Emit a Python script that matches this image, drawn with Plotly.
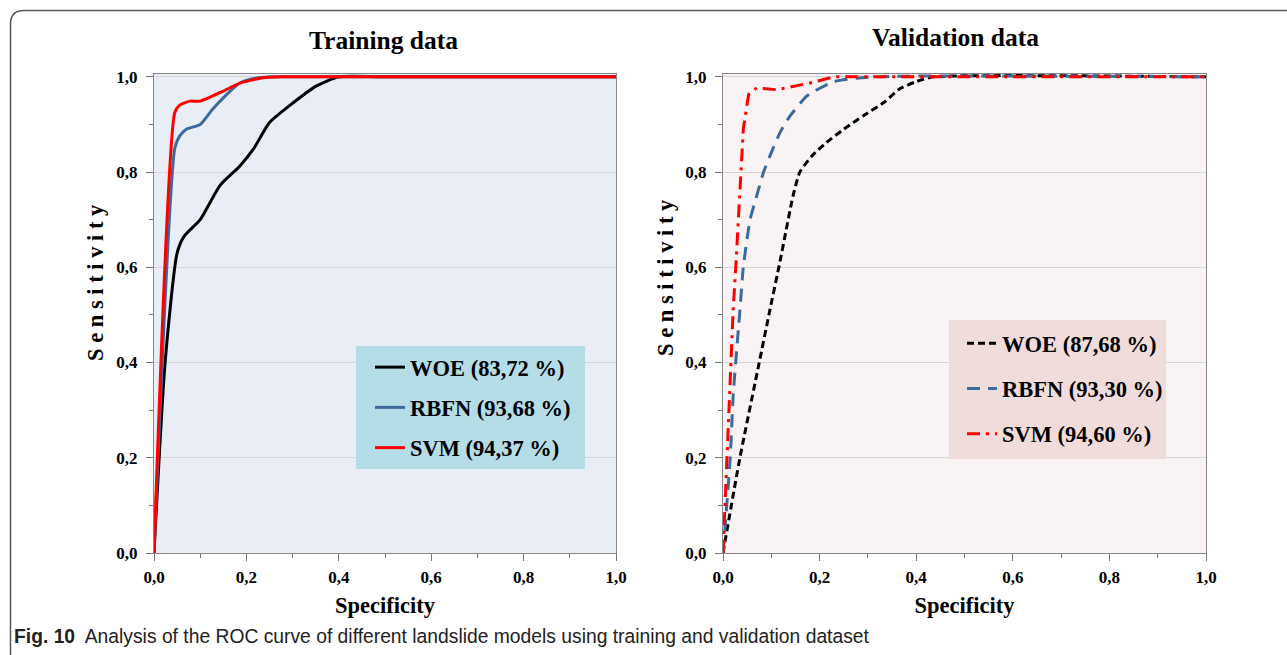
import plotly.graph_objects as go

W, H = 1287, 655

# ---------------- data ----------------
# Training data
tr_woe_x = [0, 0.024, 0.05, 0.065, 0.10, 0.143, 0.186, 0.215, 0.25, 0.294, 0.35, 0.40, 0.5, 1.0]
tr_woe_y = [0, 0.40, 0.63, 0.665, 0.70, 0.772, 0.813, 0.848, 0.904, 0.94, 0.98, 1.0, 1.0, 1.0]
tr_rbfn_x = [0, 0.045, 0.055, 0.07, 0.10, 0.125, 0.15, 0.186, 0.22, 0.26, 0.5, 1.0]
tr_rbfn_y = [0, 0.85, 0.875, 0.89, 0.90, 0.93, 0.956, 0.987, 0.997, 1.0, 1.0, 1.0]
tr_svm_x = [0, 0.045, 0.055, 0.078, 0.10, 0.15, 0.186, 0.236, 0.28, 0.5, 1.0]
tr_svm_y = [0, 0.925, 0.94, 0.949, 0.949, 0.97, 0.987, 0.998, 1.0, 1.0, 1.0]

# Validation data
va_woe_x = [0, 0.035, 0.075, 0.097, 0.118, 0.145, 0.159, 0.185, 0.214, 0.25, 0.29, 0.333, 0.366, 0.40, 0.435, 1.0]
va_woe_y = [0, 0.20, 0.40, 0.51, 0.612, 0.75, 0.80, 0.835, 0.862, 0.89, 0.918, 0.946, 0.975, 0.99, 1.0, 1.0]
va_rbfn_x = [0, 0.004, 0.015, 0.021, 0.035, 0.042, 0.056, 0.07, 0.084, 0.10, 0.118, 0.139, 0.174, 0.23, 0.31, 1.0]
va_rbfn_y = [0, 0.05, 0.20, 0.33, 0.51, 0.60, 0.70, 0.751, 0.80, 0.841, 0.883, 0.918, 0.96, 0.99, 1.0, 1.0]
va_svm_x = [0, 0.008, 0.0145, 0.021, 0.027, 0.035, 0.042, 0.053, 0.07, 0.111, 0.18, 0.229, 1.0]
va_svm_y = [0, 0.20, 0.33, 0.51, 0.61, 0.75, 0.89, 0.963, 0.977, 0.973, 0.987, 1.0, 1.0]

tr_names = ["WOE (83,72 %)", "RBFN (93,68 %)", "SVM (94,37 %)"]
va_names = ["WOE (87,68 %)", "RBFN (93,30 %)", "SVM (94,60 %)"]
titles = ["Training data", "Validation data"]
caption_bold = "Fig. 10"
caption_text = "Analysis of the ROC curve of different landslide models using training and validation dataset"
x_title = "Specificity"
y_title = "S e n s i t i v i t y"

C_WOE, C_RBFN, C_SVM = "#000000", "#3d6a9c", "#ff0000"
SERIF = "Liberation Serif, Times New Roman, serif"


def px(x):
    return x / W


def py(y):
    return 1 - y / H


fig = go.Figure()

# training traces
for xs, ys, nm, col in [(tr_woe_x, tr_woe_y, tr_names[0], C_WOE),
                        (tr_rbfn_x, tr_rbfn_y, tr_names[1], C_RBFN),
                        (tr_svm_x, tr_svm_y, tr_names[2], C_SVM)]:
    fig.add_trace(go.Scatter(x=xs, y=ys, name=nm, mode="lines", legendgroup="tr" + nm,
                             line=dict(color=col, width=3, shape="spline", smoothing=0.6),
                             xaxis="x", yaxis="y", legend="legend", hoverinfo="skip"))

# validation traces
for xs, ys, nm, col, dash, shape in [
        (va_woe_x, va_woe_y, va_names[0], C_WOE, "7px,4px", "spline"),
        (va_rbfn_x, va_rbfn_y, va_names[1], C_RBFN, "13px,8px", "spline"),
        (va_svm_x, va_svm_y, va_names[2], C_SVM, "13px,6px,3px,6px", "linear")]:
    fig.add_trace(go.Scatter(x=xs, y=ys, name=nm, mode="lines", legendgroup="va" + nm,
                             line=dict(color=col, width=3, dash=dash, shape=shape, smoothing=0.5),
                             xaxis="x2", yaxis="y2", legend="legend2", hoverinfo="skip"))

tickfont = dict(family=SERIF, size=17, color="#000", weight="bold")
titlefont = dict(family=SERIF, size=22.5, color="#000", weight="bold")


def xaxis(dom, anchor):
    return dict(domain=dom, anchor=anchor, range=[0, 1.0], tick0=0, dtick=0.2, tickformat=".1f",
                ticks="outside", ticklen=7, tickcolor="#777", showline=True, linecolor="#888",
                linewidth=1, mirror=True, showgrid=False, zeroline=False, tickfont=tickfont,
                automargin=False, ticklabelstandoff=2,
                minor=dict(ticks="outside", ticklen=4, dtick=0.1, tickcolor="#777", showgrid=False),
                title=dict(text=x_title, font=titlefont, standoff=10))


def yaxis(dom, anchor):
    return dict(domain=dom, anchor=anchor, range=[0, 1.006], tick0=0, dtick=0.2, tickformat=".1f",
                ticks="outside", ticklen=7, tickcolor="#777", showline=True, linecolor="#888",
                linewidth=1, mirror=True, showgrid=True, gridcolor="#d4d4d4", gridwidth=1,
                zeroline=False, tickfont=tickfont, automargin=False, ticklabelstandoff=5,
                minor=dict(ticks="outside", ticklen=4, dtick=0.1, tickcolor="#777", showgrid=False))


legfont = dict(family=SERIF, size=22.5, color="#000", weight="bold")
ydom = [py(553), py(74)]
fig.update_layout(
    template="none",
    width=W, height=H, margin=dict(l=0, r=0, t=0, b=0, pad=0), autosize=False,
    paper_bgcolor="white", plot_bgcolor="rgba(0,0,0,0)",
    separators=", ",
    xaxis=xaxis([px(154), px(616)], "y"),
    yaxis=yaxis(ydom, "x"),
    xaxis2=xaxis([px(723), px(1206)], "y2"),
    yaxis2=yaxis(ydom, "x2"),
    legend=dict(x=px(370), y=py(346), xanchor="left", yanchor="top", bgcolor="rgba(0,0,0,0)",
                font=legfont, tracegroupgap=8, borderwidth=0),
    legend2=dict(x=px(962), y=py(322), xanchor="left", yanchor="top", bgcolor="rgba(0,0,0,0)",
                 font=legfont, tracegroupgap=13, borderwidth=0),
    showlegend=True,
)

shapes = [
    # plot backgrounds
    dict(type="rect", xref="x domain", yref="y domain", x0=0, x1=1, y0=0, y1=1,
         fillcolor="#e9edf6", line=dict(width=0), layer="below"),
    dict(type="rect", xref="x2 domain", yref="y2 domain", x0=0, x1=1, y0=0, y1=1,
         fillcolor="#f9f3f3", line=dict(width=0), layer="below"),
    # legend boxes
    dict(type="rect", xref="paper", yref="paper", x0=px(356), x1=px(585), y0=py(469), y1=py(346),
         fillcolor="#b5dde7", line=dict(width=0), layer="above"),
    dict(type="rect", xref="paper", yref="paper", x0=px(949), x1=px(1166), y0=py(459), y1=py(320),
         fillcolor="#f1dcdc", line=dict(width=0), layer="above"),
    # outer rounded frame (left + top edges)
    dict(type="path", xref="paper", yref="paper",
         path=f"M {px(10.5)},{py(660)} L {px(10.5)},{py(24)} Q {px(10.5)},{py(10.5)} {px(24)},{py(10.5)} L {px(1295)},{py(10.5)}",
         line=dict(color="#555555", width=1.5)),
]
fig.update_layout(shapes=shapes)

tfont = dict(family=SERIF, size=25.5, color="#000", weight="bold")
annos = [
    dict(text=titles[0], x=px(383), y=py(41), xref="paper", yref="paper", showarrow=False,
         xanchor="center", yanchor="middle", font=tfont),
    dict(text=titles[1], x=px(955), y=py(38), xref="paper", yref="paper", showarrow=False,
         xanchor="center", yanchor="middle", font=tfont),
    dict(text=y_title, x=px(95), y=py(282), xref="paper", yref="paper", showarrow=False,
         textangle=-90, xanchor="center", yanchor="middle", font=titlefont),
    dict(text=y_title, x=px(665), y=py(278), xref="paper", yref="paper", showarrow=False,
         textangle=-90, xanchor="center", yanchor="middle", font=titlefont),
    dict(text=f"<b>{caption_bold}</b>  {caption_text}", x=px(12), y=py(636), xref="paper", yref="paper",
         xanchor="left", yanchor="middle", showarrow=False,
         font=dict(family="Liberation Sans, Arial, sans-serif", size=19.3, color="#222")),
]
fig.update_layout(annotations=annos)

fig.write_html("out.html", config={"displayModeBar": False},
               post_script="document.body.style.margin='0';")
